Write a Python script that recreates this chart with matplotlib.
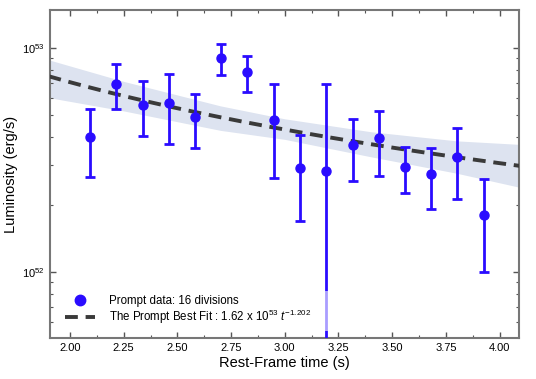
import matplotlib
matplotlib.use('Agg')
import matplotlib.pyplot as plt
from matplotlib.ticker import MultipleLocator, LogLocator, NullFormatter
import numpy as np

plt.rcParams['font.family'] = ['Liberation Sans', 'DejaVu Sans']
plt.rcParams['mathtext.fontset'] = 'custom'
plt.rcParams['mathtext.rm'] = 'Liberation Sans'
plt.rcParams['mathtext.it'] = 'Liberation Sans:italic'

# prompt data (luminosity in units of 1e52 erg/s)
t_data = [2.093, 2.214, 2.338, 2.460, 2.581, 2.705, 2.826, 2.949,
          3.070, 3.194, 3.318, 3.439, 3.561, 3.682, 3.804, 3.930]
lum = [4.01, 6.90, 5.56, 5.69, 4.90, 9.00, 7.79, 4.75,
       2.90, 2.83, 3.68, 3.97, 2.95, 2.74, 3.27, 1.79]
lum_hi = [5.37, 8.48, 7.12, 7.65, 6.21, 10.42, 9.24, 6.88,
          4.10, 6.90, 4.82, 5.23, 3.62, 3.58, 4.39, 2.60]
lum_lo = [2.66, 5.35, 4.03, 3.72, 3.56, 7.60, 6.34, 2.62,
          1.69, 0.10, 2.55, 2.69, 2.25, 1.91, 2.11, 1.00]

# best fit parameters
fit_norm = 16.2
fit_index = -1.202

# confidence band (units of 1e52)
band_t = [1.90, 2.25, 2.70, 3.00, 3.40, 3.80, 4.10]
band_hi = [8.87, 7.10, 5.52, 4.83, 4.23, 3.85, 3.71]
band_lo = [6.01, 5.24, 4.29, 3.91, 3.27, 2.76, 2.38]

scale = 1e52


def main():
    fig = plt.figure(figsize=(5.36, 3.79), dpi=100)
    ax = fig.add_axes([0.0933, 0.108, 0.8747, 0.8656])

    ax.fill_between(band_t, np.array(band_lo) * scale, np.array(band_hi) * scale,
                    color='#dde3f0', lw=0, zorder=1)

    t_fit = np.linspace(1.90, 4.10, 200)
    ax.plot(t_fit, fit_norm * scale * t_fit ** fit_index, color='#3a3a3a', lw=2.8,
            dashes=(3.3, 2.0), zorder=3,
            label=r'The Prompt Best Fit : 1.62 x 10$^{\mathit{53}}$ $\mathit{t}^{\mathit{-1.202}}$')

    y = np.array(lum) * scale
    yerr = [y - np.array(lum_lo) * scale, np.array(lum_hi) * scale - y]
    ax.errorbar(t_data, y, yerr=yerr, fmt='o', color='#2a0cff', ms=6.5,
                elinewidth=2, capsize=3.4, capthick=2, zorder=4)
    ax.plot([], [], 'o', color='#2a0cff', ms=7.5, label='Prompt data: 16 divisions')

    ax.set_yscale('log')
    ax.set_xlim(1.907, 4.09)
    ax.set_ylim(5.06e51, 1.48e53)

    ax.xaxis.set_major_locator(MultipleLocator(0.25))
    ax.xaxis.set_minor_locator(MultipleLocator(0.125))
    ax.yaxis.set_major_locator(LogLocator(base=10))
    ax.yaxis.set_minor_locator(LogLocator(base=10, subs=np.arange(2, 10)))
    ax.yaxis.set_minor_formatter(NullFormatter())

    ax.tick_params(which='both', direction='in', top=True, right=True,
                   colors='#555555', labelcolor='black', labelsize=8)
    ax.tick_params(which='major', length=4, width=1)
    ax.tick_params(which='minor', length=2.5, width=0.8)
    for s in ax.spines.values():
        s.set_color('#777777')
        s.set_linewidth(1.5)

    ax.set_xlabel('Rest-Frame time (s)', fontsize=10.5, labelpad=2)
    ax.set_ylabel('Luminosity (erg/s)', fontsize=10.5, labelpad=3)

    handles, labels = ax.get_legend_handles_labels()
    leg = ax.legend(handles[::-1], labels[::-1], loc='lower left',
                    bbox_to_anchor=(0.022, 0.022, 0.572, 0.1), mode='expand',
                    borderaxespad=0, fontsize=8.3, frameon=True,
                    framealpha=0.6, edgecolor='none', handlelength=2.6,
                    handletextpad=1.2, labelspacing=0.05, borderpad=0.4)
    leg.get_frame().set_boxstyle('square', pad=0)

    plt.savefig('out.png', dpi=100)


if __name__ == '__main__':
    main()
